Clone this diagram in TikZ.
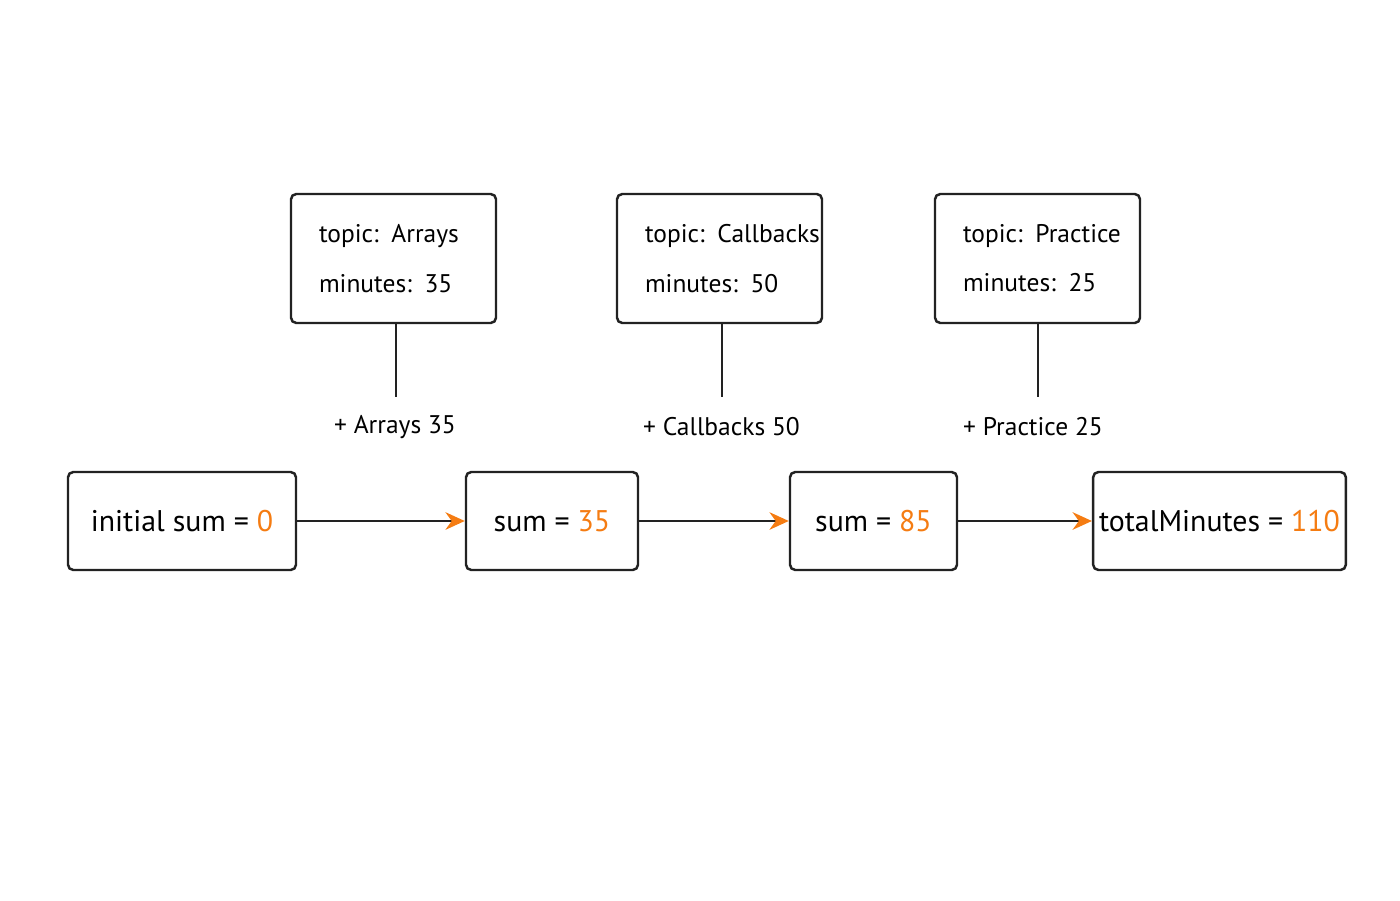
\documentclass[tikz,border=0pt]{standalone}
\usepackage{fontspec}
\setmainfont{PT Sans}
\setsansfont{PT Sans}
\usetikzlibrary{arrows.meta,positioning}
\definecolor{accentorange}{HTML}{F57C12}
\definecolor{boxborder}{HTML}{222222}

\begin{document}
\begin{tikzpicture}[
    >=Stealth,
    every node/.style={font=\sffamily},
    topicbox/.style={draw=boxborder, line width=1.4pt, rounded corners=3pt, fill=white,
        minimum width=4.1cm, minimum height=2.58cm, text width=2.98cm, align=left,
        font=\sffamily\fontsize{14.5}{28}\selectfont},
    sumbox/.style={draw=boxborder, line width=1.4pt, rounded corners=3pt, fill=white,
        minimum height=1.96cm, font=\sffamily\fontsize{17}{20}\selectfont},
    steplabel/.style={font=\sffamily\fontsize{14.5}{16}\selectfont},
    flow/.style={line width=1.4pt, boxborder, -{Stealth[length=11pt,width=10pt,color=accentorange]}}
]
    % Canvas
    \useasboundingbox (0,0) rectangle (28,18);

    % Topic boxes
    \node[topicbox] (arrays) at (7.87,12.83) {\mbox{topic: Arrays}\\\mbox{minutes: 35}};
    \node[topicbox] (callbacks) at (14.39,12.83) {\mbox{topic: Callbacks}\\\mbox{minutes: 50}};
    \node[topicbox] (practice) at (20.75,12.83) {\mbox{topic: Practice}\\\mbox{minutes: 25}};

    % Stems
    \coordinate (arraysend) at (7.92,10.06);
    \coordinate (callbacksend) at (14.44,10.06);
    \coordinate (practiceend) at (20.76,10.06);
    \draw[line width=1.4pt, boxborder] (arrays.south -| arraysend) -- (arraysend);
    \draw[line width=1.4pt, boxborder] (callbacks.south -| callbacksend) -- (callbacksend);
    \draw[line width=1.4pt, boxborder] (practice.south -| practiceend) -- (practiceend);

    % Step labels
    \node[steplabel] (addarrays) at (7.9,9.46) {+ Arrays 35};
    \node[steplabel] (addcallbacks) at (14.43,9.46) {+ Callbacks 50};
    \node[steplabel] (addpractice) at (20.66,9.46) {+ Practice 25};

    % Running sums
    \node[sumbox, minimum width=4.56cm] (init) at (3.64,7.58) {initial sum = \textcolor{accentorange}{0}};
    \node[sumbox, minimum width=3.44cm] (sumA) at (11.04,7.58) {sum = \textcolor{accentorange}{35}};
    \node[sumbox, minimum width=3.34cm] (sumB) at (17.47,7.58) {sum = \textcolor{accentorange}{85}};
    \node[sumbox, minimum width=4.78cm] (total) at (24.39,7.58) {totalMinutes = \textcolor{accentorange}{110}};

    % Flow arrows
    \draw[flow] (init) -- (sumA);
    \draw[flow] (sumA) -- (sumB);
    \draw[flow] (sumB) -- (total);
\end{tikzpicture}
\end{document}
